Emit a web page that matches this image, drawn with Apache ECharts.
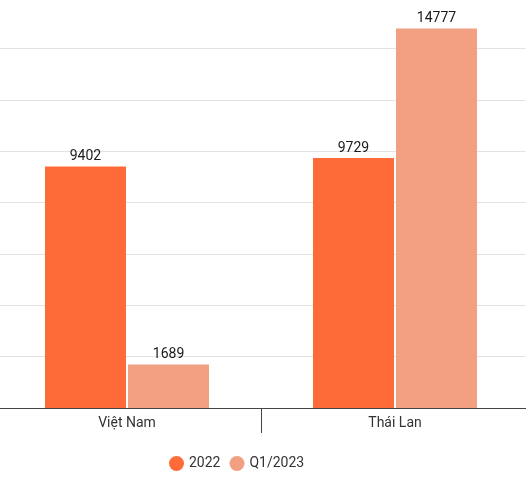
<!DOCTYPE html>
<html>
<head>
<meta charset="utf-8">
<script src="https://cdn.jsdelivr.net/npm/echarts@6/dist/echarts.min.js"></script>
<style>
  html, body { margin: 0; padding: 0; background: #fff; }
  #chart { width: 526px; height: 477px; }
</style>
</head>
<body>
<div id="chart"></div>
<script>
const categories = ['Việt Nam', 'Thái Lan'];
const seriesNames = ['2022', 'Q1/2023'];
const values2022 = [9402, 9729];
const valuesQ12023 = [1689, 14777];

const chart = echarts.init(document.getElementById('chart'));

const labelStyle = {
    show: true,
    position: 'top',
    distance: 3,
    color: '#1a1a1a',
    fontSize: 14,
    fontFamily: 'Roboto'
};

chart.setOption({
    backgroundColor: '#FFFFFF',
    animation: false,
    textStyle: { fontFamily: 'Roboto' },
    grid: {
        left: -7,
        right: -3,
        top: -3,
        bottom: 69,
        containLabel: false,
        outerBoundsMode: 'none'
    },
    legend: {
        data: seriesNames,
        bottom: 1,
        left: 164,
        icon: 'circle',
        itemWidth: 15,
        itemHeight: 15,
        itemGap: 9,
        textStyle: { color: '#333', fontSize: 14, fontFamily: 'Roboto' }
    },
    xAxis: {
        type: 'category',
        data: categories,
        axisLine: { lineStyle: { color: '#444', width: 1 } },
        axisTick: { show: true, length: 25, lineStyle: { color: '#444' } },
        axisLabel: { color: '#333', fontSize: 14, margin: 8, fontFamily: 'Roboto' }
    },
    yAxis: {
        type: 'value',
        min: 0,
        max: 16000,
        interval: 2000,
        axisLabel: { show: false },
        axisLine: { show: false },
        axisTick: { show: false },
        splitLine: { lineStyle: { color: '#e3e3e3', width: 1 } }
    },
    series: [
        {
            name: seriesNames[0],
            type: 'bar',
            data: values2022,
            barCategoryGap: '38.8%',
            barGap: '2.5%',
            itemStyle: { color: '#FF6B38' },
            label: labelStyle
        },
        {
            name: seriesNames[1],
            type: 'bar',
            data: valuesQ12023,
            barCategoryGap: '38.8%',
            barGap: '2.5%',
            itemStyle: { color: '#F29F82' },
            label: labelStyle
        }
    ]
});
</script>
</body>
</html>
